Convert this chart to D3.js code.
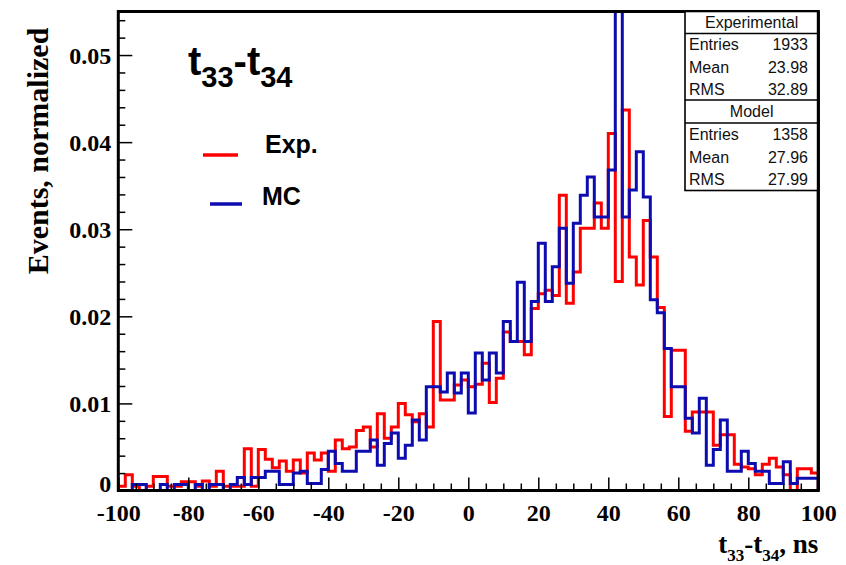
<!DOCTYPE html>
<html><head><meta charset="utf-8">
<script src="https://cdn.jsdelivr.net/npm/d3@7"></script>
<style>body{margin:0;background:#fff}svg{display:block}</style>
</head><body>
<svg id="chart" width="846" height="565"></svg>
<script>
// ---- data ----
const binStart = -100, binWidth = 2;
const expValues = [
0.0005,0.0018,0.0005,0,0.0005,0.0016,0.0016,0.0005,0.0005,0.001,
0.001,0.0005,0.0011,0.0005,0.0022,0.0005,0.0005,0.0005,0.0048,0.0005,
0.0047,0.0036,0.0026,0.0034,0.0022,0.0035,0.002,0.0043,0.0035,0.0043,
0.0022,0.0058,0.0048,0.005,0.0069,0.0073,0.005,0.0088,0.006,0.0073,
0.01,0.0087,0.0079,0.0088,0.0073,0.0194,0.0104,0.0104,0.0121,0.0127,
0.0119,0.0122,0.0146,0.0101,0.0129,0.0182,0.0171,0.0171,0.0156,0.0209,
0.0226,0.023,0.0224,0.0339,0.0215,0.0251,0.0301,0.0301,0.033,0.0301,
0.041,0.024,0.0437,0.0268,0.0236,0.031,0.0268,0.021,0.0085,0.0161,
0.0161,0.0068,0.009,0.009,0.009,0.0052,0.0064,0.0064,0.003,0.0027,
0.0025,0.0018,0.003,0.0037,0.0027,0.0018,0,0.0025,0.0025,0.002];
const mcValues = [
0,0,0.0007,0.0007,0,0,0.0007,0,0.0007,0.0007,
0,0.0007,0,0.0007,0.0007,0,0.0007,0.0015,0.0007,0.0015,
0.0015,0.0022,0.0022,0.0007,0.0007,0.002,0.0022,0.0008,0.0008,0.0024,
0.0045,0.0031,0.0022,0.0022,0.0045,0.0045,0.0058,0.0029,0.0054,0.0066,
0.0037,0.0052,0.0081,0.0058,0.0119,0.0119,0.0113,0.0135,0.0112,0.0135,
0.0089,0.0158,0.0127,0.0158,0.0135,0.0194,0.0171,0.0239,0.0171,0.0217,
0.0284,0.0217,0.0257,0.0301,0.0238,0.0307,0.0339,0.036,0.0314,0.0314,
0.0368,0.0560,0.0314,0.0345,0.0389,0.0337,0.0219,0.0204,0.0163,0.0119,
0.0119,0.0083,0.0066,0.0106,0.0029,0.0047,0.0081,0.0022,0.0022,0.0045,
0.0031,0.0022,0.0022,0.0008,0.0008,0.0033,0.0008,0.0014,0.0014,0.0014];
const xTickValues = [-100,-80,-60,-40,-20,0,20,40,60,80,100];
const xTickLabels = ["-100","-80","-60","-40","-20","0","20","40","60","80","100"];
const yTickValues = [0,0.01,0.02,0.03,0.04,0.05];
const yTickLabels = ["0","0.01","0.02","0.03","0.04","0.05"];
const statsExpTitle = "Experimental";
const statsExpRows = [["Entries","1933"],["Mean","23.98"],["RMS","32.89"]];
const statsMcTitle = "Model";
const statsMcRows = [["Entries","1358"],["Mean","27.96"],["RMS","27.99"]];
const legendLabels = ["Exp.","MC"];
const seriesColors = ["#ff0000","#0c0cb0"];

// ---- layout ----
const svg = d3.select("#chart");
const L = 118.3, R = 818.3, T = 11.5, B = 490.5;
const x = d3.scaleLinear().domain([-100,100]).range([L,R]);
const y = d3.scaleLinear().domain([0,0.055]).range([B,T]);
const serif = "'Liberation Serif','Times New Roman',serif";
const sans = "'Liberation Sans',Arial,Helvetica,sans-serif";

svg.append("defs").append("clipPath").attr("id","plotclip")
  .append("rect").attr("x",L).attr("y",T-1).attr("width",R-L).attr("height",B-T+1);

// histograms
function histPoints(vals){
  const pts=[[binStart,0]];
  vals.forEach((v,i)=>{const lo=binStart+i*binWidth;pts.push([lo,v],[lo+binWidth,v]);});
  pts.push([binStart+vals.length*binWidth,0]);
  return pts;
}
const line = d3.line().x(d=>x(d[0])).y(d=>y(d[1]));
const g = svg.append("g").attr("clip-path","url(#plotclip)");
[expValues, mcValues].forEach((vals,k)=>{
  g.append("path").attr("d",line(histPoints(vals)))
   .attr("fill","none").attr("stroke",seriesColors[k]).attr("stroke-width",3)
   .attr("stroke-linejoin","miter");
});

// axes
const xMinor = d3.range(-100,101,5).filter(v=>v%20!==0);
const yMinor = d3.range(0,0.0551,0.002).filter(v=>Math.abs(v/0.01-Math.round(v/0.01))>1e-6);
const xAxis = svg.append("g").attr("transform",`translate(0,${B})`)
  .call(d3.axisBottom(x).tickValues(xTickValues).tickSize(-13).tickPadding(13).tickFormat((d,i)=>xTickLabels[i]));
svg.append("g").attr("transform",`translate(0,${B})`)
  .call(d3.axisBottom(x).tickValues(xMinor).tickSize(-7).tickFormat(""));
const yAxis = svg.append("g").attr("transform",`translate(${L},0)`)
  .call(d3.axisLeft(y).tickValues(yTickValues).tickSize(-14).tickPadding(7).tickFormat((d,i)=>yTickLabels[i]));
svg.append("g").attr("transform",`translate(${L},0)`)
  .call(d3.axisLeft(y).tickValues(yMinor).tickSize(-7).tickFormat(""));
svg.selectAll(".domain").remove();
svg.selectAll(".tick line").attr("stroke","#000").attr("stroke-width",1.5);
svg.selectAll(".tick text").attr("font-family",serif).attr("font-weight","bold")
  .attr("font-size",24).attr("fill","#000");
yAxis.selectAll(".tick text").attr("dy","0.35em");
yAxis.selectAll(".tick text").filter((d,i)=>i===0).attr("dy","0.05em");

// frame
svg.append("rect").attr("x",L).attr("y",T).attr("width",R-L).attr("height",B-T)
  .attr("fill","none").attr("stroke","#000").attr("stroke-width",3);

// y title
svg.append("text").attr("transform","translate(48,151) rotate(-90)")
  .attr("text-anchor","middle").attr("font-family",serif).attr("font-weight","bold")
  .attr("font-size",30).text("Events, normalized");

// x title
const xt = svg.append("text").attr("x",R).attr("y",553).attr("text-anchor","end")
  .attr("font-family",serif).attr("font-weight","bold").attr("font-size",27);
xt.append("tspan").text("t");
xt.append("tspan").attr("dy",8).attr("font-size",17).text("33");
xt.append("tspan").attr("dy",-8).text("-t");
xt.append("tspan").attr("dy",8).attr("font-size",17).text("34");
xt.append("tspan").attr("dy",-8).text(", ns");

// plot title
const tt = svg.append("text").attr("x",188).attr("y",75)
  .attr("font-family",sans).attr("font-weight","bold").attr("font-size",40);
tt.append("tspan").text("t");
tt.append("tspan").attr("dy",12).attr("font-size",29).text("33");
tt.append("tspan").attr("dy",-12).text("-t");
tt.append("tspan").attr("dy",12).attr("font-size",29).text("34");

// legend
const legY = [155,204], legX1=[203,210], legX2=[238,242], legTX=[265,262], legTY=[153,205];
legendLabels.forEach((lab,i)=>{
  svg.append("line").attr("x1",legX1[i]).attr("x2",legX2[i]).attr("y1",legY[i]).attr("y2",legY[i])
    .attr("stroke",seriesColors[i]).attr("stroke-width",3.5);
  svg.append("text").attr("x",legTX[i]).attr("y",legTY[i]).attr("font-family",sans)
    .attr("font-weight","bold").attr("font-size",25).text(lab);
});

// stats box
const sb = svg.append("g");
const bx=685, bw=R-685;
sb.append("rect").attr("x",bx).attr("y",T).attr("width",bw).attr("height",179)
  .attr("fill","#fff").attr("stroke","#000").attr("stroke-width",1.6);
[33.5,100,123].forEach(yy=>sb.append("line").attr("x1",bx).attr("x2",R).attr("y1",yy).attr("y2",yy)
  .attr("stroke","#000").attr("stroke-width",1.6));
function statText(xx,yy,txt,anchor){
  sb.append("text").attr("x",xx).attr("y",yy).attr("text-anchor",anchor)
    .attr("font-family",sans).attr("font-size",16).attr("fill","#111").text(txt);
}
statText(bx+bw/2,28,statsExpTitle,"middle");
statsExpRows.forEach((r,i)=>{statText(689,50+i*22.5,r[0],"start");statText(808,50+i*22.5,r[1],"end");});
statText(bx+bw/2,117,statsMcTitle,"middle");
statsMcRows.forEach((r,i)=>{statText(689,140+i*22.5,r[0],"start");statText(808,140+i*22.5,r[1],"end");});
// redraw right frame edge over stats box
svg.append("line").attr("x1",R).attr("x2",R).attr("y1",T).attr("y2",B).attr("stroke","#000").attr("stroke-width",3);
</script>
</body></html>
